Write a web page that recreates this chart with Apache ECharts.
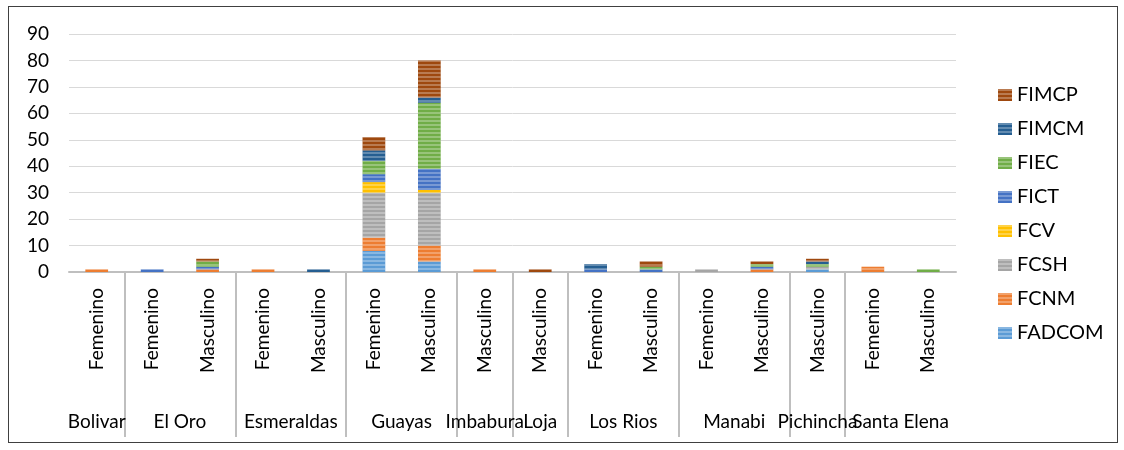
<!DOCTYPE html>
<html>
<head>
<meta charset="utf-8">
<script src="https://cdn.jsdelivr.net/npm/echarts@6/dist/echarts.min.js"></script>
<style>
html,body{margin:0;padding:0;background:#fff;}
#chart{width:1124px;height:450px;position:absolute;left:0;top:0;}
#frame{position:absolute;left:8px;top:6px;width:1108px;height:435px;border:1px solid #404040;pointer-events:none;}
</style>
</head>
<body>
<div id="chart"></div>
<div id="frame"></div>
<script>
// Inner categories (one per bar)
const genders = ['Femenino','Femenino','Masculino','Femenino','Masculino','Femenino','Masculino','Masculino','Masculino','Femenino','Masculino','Femenino','Masculino','Masculino','Femenino','Masculino'];
// Outer groups and how many bars each spans
const provinces = ['Bolivar','El Oro','Esmeraldas','Guayas','Imbabura','Loja','Los Rios','Manabi','Pichincha','Santa Elena'];
const provinceCounts = [1,2,2,2,1,1,2,2,1,2];
// Y-axis ticks
const yMin = 0, yMax = 90, yStep = 10;

// Series values
const FADCOM = [0,0,0,0,0,8,4,0,0,0,0,0,0,1,0,0];
const FCNM   = [1,0,1,1,0,5,6,1,0,0,0,0,1,0,2,0];
const FCSH   = [0,0,0,0,0,17,20,0,0,0,0,1,0,1,0,0];
const FCV    = [0,0,0,0,0,4,1,0,0,0,0,0,0,0,0,0];
const FICT   = [0,1,1,0,0,3,8,0,0,1,1,0,1,0,0,0];
const FIEC   = [0,0,2,0,0,5,25,0,0,0,1,0,1,1,0,1];
const FIMCM  = [0,0,0,0,1,4,2,0,0,2,0,0,0,1,0,0];
const FIMCP  = [0,0,1,0,0,5,14,0,1,0,2,0,1,1,0,0];

const seriesNames = ['FADCOM','FCNM','FCSH','FCV','FICT','FIEC','FIMCM','FIMCP'];
const seriesData = [FADCOM,FCNM,FCSH,FCV,FICT,FIEC,FIMCM,FIMCP];
const colors = ['#5B9BD5','#ED7D31','#A5A5A5','#FFC000','#4472C4','#70AD47','#255E91','#9E480E'];

// group boundaries and centres on a 0..N value scale
const boundaries = [0];
const centers = [];
provinceCounts.forEach(function(c){
  const start = boundaries[boundaries.length-1];
  centers.push(start + c/2);
  boundaries.push(start + c);
});
const total = boundaries[boundaries.length-1];
const centerName = {};
centers.forEach(function(v,i){ centerName[v] = provinces[i]; });
// empty placeholder labels at both ends so that the min/max overlap check never drops a province name
const labelValues = [0].concat(centers, [total]);

const FONT = 'Lato, sans-serif';

const chart = echarts.init(document.getElementById('chart'), null, {renderer:'canvas'});
chart.setOption({
  animation:false,
  color: colors,
  grid:{left:69, right:168, top:34, bottom:178, containLabel:false},
  legend:{
    orient:'vertical', left:993, top:80,
    data: seriesNames.slice().reverse(),
    icon:'rect', itemWidth:14, itemHeight:12, itemGap:14,
    textStyle:{fontFamily:FONT, fontSize:20, lineHeight:20, color:'#000'}
  },
  xAxis:[{
    type:'category', data: genders, position:'bottom',
    axisLine:{show:true, lineStyle:{color:'#BFBFBF', width:2}},
    axisTick:{show:false},
    axisLabel:{rotate:90, interval:0, margin:16, fontFamily:FONT, fontSize:19, color:'#000'}
  },{
    type:'value', min:0, max:total, position:'bottom',
    axisLine:{show:false}, splitLine:{show:false},
    axisTick:{show:true, customValues: boundaries, length:165, lineStyle:{color:'#BFBFBF', width:2}},
    axisLabel:{customValues: labelValues, margin:140, showMinLabel:false, showMaxLabel:false, hideOverlap:false,
      fontFamily:FONT, fontSize:19, color:'#000',
      formatter:function(v){ return centerName[v] || ''; }}
  }],
  yAxis:{
    type:'value', min:yMin, max:yMax, interval:yStep,
    axisLine:{show:false}, axisTick:{show:false},
    splitLine:{lineStyle:{color:'#D9D9D9', width:1}},
    axisLabel:{margin:20, fontFamily:FONT, fontSize:19, color:'#000'}
  },
  series: seriesNames.map(function(n,i){
    return {
      name:n, type:'bar', stack:'total', xAxisIndex:0, barWidth:'41%',
      data: seriesData[i],
      itemStyle:{
        color: colors[i],
        decal:{symbol:'rect', symbolSize:1, dashArrayX:[1,0], dashArrayY:[2,2], rotation:0, color:'rgba(255,255,255,0.28)'}
      }
    };
  })
});
</script>
</body>
</html>
